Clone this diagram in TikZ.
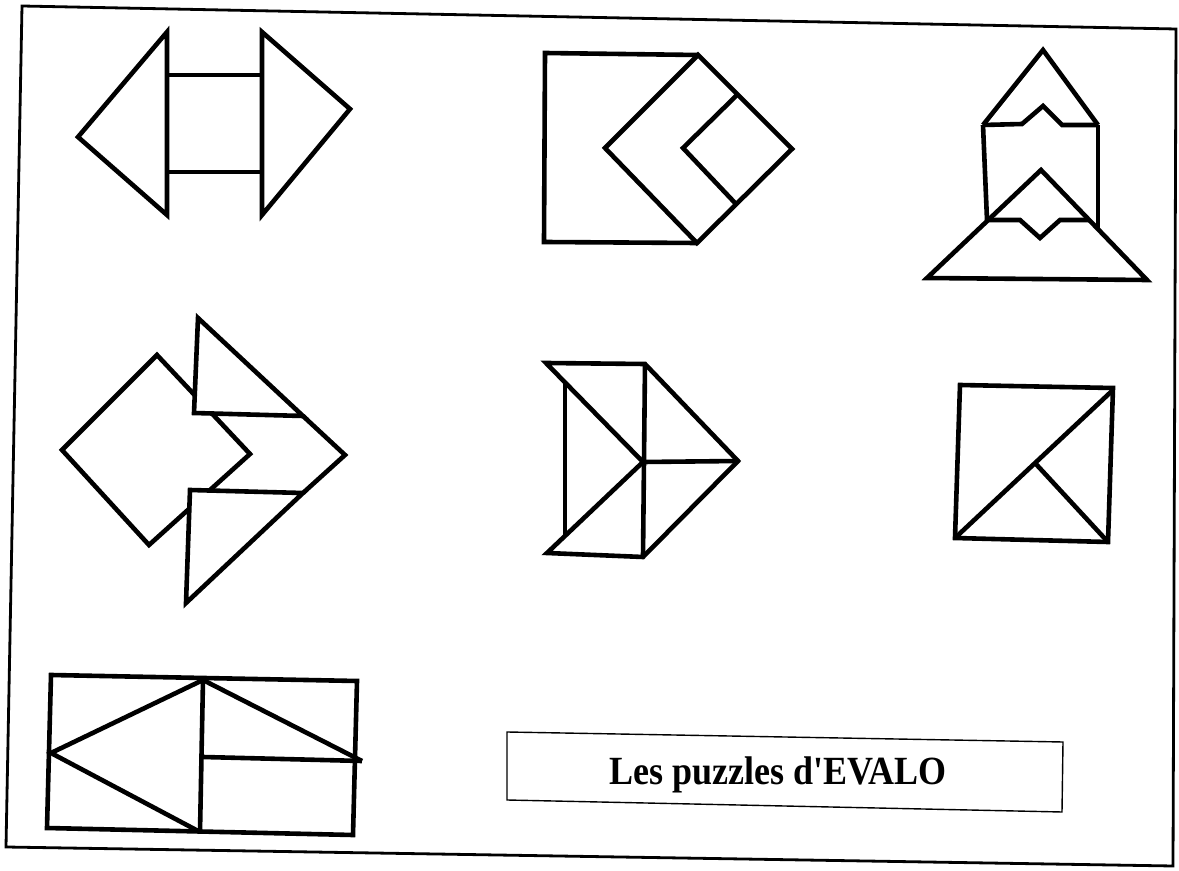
\documentclass[tikz,border=0pt]{standalone}
\usepackage{fontspec}
\newfontfamily\titlefont{Liberation Serif}
\begin{document}
\begin{tikzpicture}[x=0.5pt,y=-0.5pt,
  piece/.style={line width=2.3pt,line join=miter,line cap=butt},
  cover/.style={piece,fill=white},
  frameline/.style={line width=1.4pt},
  labelbox/.style={line width=0.7pt}]
\useasboundingbox (0,0) rectangle (1179,871);
\fill[white] (0,0) rectangle (1179,871);
% outer frame
\draw[frameline] (22,6) -- (1176,29) -- (1173,866) -- (6,847) -- cycle;

% shape 1: double arrow
\draw[piece] (167,32) -- (78,137) -- (167,215) -- cycle;
\draw[piece] (262,32) -- (350,109) -- (262,215) -- cycle;
\draw[piece] (167,75) -- (262,75);
\draw[piece] (167,172) -- (262,172);

% shape 2: square with diamond
\draw[piece] (698,55) -- (545,53) -- (544,242) -- (697,243);
\draw[piece] (698,55) -- (605,148) -- (697,243) -- (792,149) -- cycle;
\draw[piece] (737,95) -- (683,148) -- (736,204);

% shape 3: rocket
\draw[piece] (983,125) -- (1043,50) -- (1098,125);
\draw[piece] (983,125) -- (1022,124) -- (1043,106) -- (1062,125) -- (1098,125);
\draw[piece] (983,125) -- (987,220);
\draw[piece] (1098,125) -- (1098,228);
\draw[piece] (927,278) -- (1041,170) -- (1147,280) -- cycle;
\draw[piece] (988,220) -- (1020,220) -- (1040,238) -- (1060,220) -- (1089,220);

% shape 4: fish
\draw[piece] (62,450) -- (157,355) -- (250,454) -- (149,545) -- cycle;
\draw[cover] (198,318) -- (194,413) -- (303,416) -- cycle;
\draw[cover] (190,490) -- (303,493) -- (186,603) -- cycle;
\draw[piece] (303,416) -- (345,455) -- (303,493);

% shape 5: arrow from triangles
\draw[piece] (546,363) -- (645,364) -- (738,461) -- (643,557) -- (547,553) -- (643,462) -- cycle;
\draw[piece] (645,364) -- (643,557);
\draw[piece] (643,462) -- (738,461);
\draw[piece] (565,382) -- (565,536);

% shape 6: square with diagonal
\draw[piece] (960,385) -- (1113,388) -- (1108,542) -- (955,538) -- cycle;
\draw[piece] (955,538) -- (1113,390);
\draw[piece] (1035,463) -- (1108,542);

% shape 7: rectangle with arrow
\draw[piece] (51,675) -- (357,681) -- (353,835) -- (47,828) -- cycle;
\draw[piece] (203,680) -- (200,832);
\draw[piece] (203,680) -- (51,753) -- (200,832);
\draw[piece] (203,680) -- (362,761);
\draw[piece] (203,757) -- (362,761);

% title box
\draw[labelbox] (507,732) -- (1063,742) -- (1062,812) -- (507,800) -- cycle;
\node (title) at (778,775) {\scalebox{0.9}[1]{\titlefont\fontsize{20}{24}\selectfont\bfseries Les puzzles d'EVALO}};
\end{tikzpicture}
\end{document}
